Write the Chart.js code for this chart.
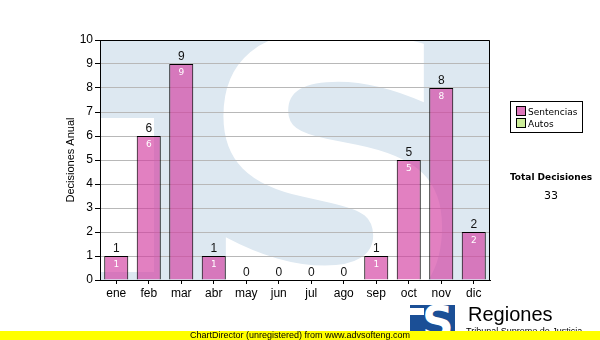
<!DOCTYPE html>
<html>
<head>
<meta charset="utf-8">
<script src="https://cdn.jsdelivr.net/npm/chart.js@4"></script>
<style>
  html, body { margin: 0; padding: 0; background: #fff; }
  #wrap { position: relative; width: 600px; height: 340px; overflow: hidden; font-family: "Liberation Sans", Arial, sans-serif; }
  #chart { position: absolute; left: 0; top: 0; }
  .legend { position: absolute; left: 510px; top: 101px; width: 73px; height: 32px; border: 1px solid #000; box-sizing: border-box;
            font: 9px "DejaVu Sans", sans-serif; padding: 4px 0 0 5px; line-height: 12px; }
  .legend span.sw { display: inline-block; width: 8px; height: 8px; border: 1px solid #000; vertical-align: -1px; margin-right: 2px; }
  .total { position: absolute; left: 500px; width: 102px; text-align: center; font: 9px "DejaVu Sans", sans-serif; }
  .yellow { position: absolute; left: 0; top: 331px; width: 600px; height: 9px; background: #ffff00; z-index: 3;
            font: 9px "Liberation Sans", Arial, sans-serif; line-height: 9px; text-align: center; color: #000; }
  .logo { position: absolute; left: 410px; top: 305px; width: 45px; height: 30px; background: #1b4f96; overflow: hidden; }
  .logo span { position: absolute; left: 12px; top: -8px; color: #fff; font: bold 44px "DejaVu Sans", sans-serif; }
  .logo i { position: absolute; left: 0; top: 3px; width: 14px; height: 7px; background: #fff; }
  .reg { position: absolute; left: 468px; top: 303px; font: 20px "Liberation Sans", Arial, sans-serif; color: #000; }
  .sub { position: absolute; left: 466px; top: 326px; font: 9px "Liberation Sans", Arial, sans-serif; color: #000; }
</style>
</head>
<body>
<div id="wrap">
  <canvas id="chart" width="600" height="340"></canvas>
  <div class="legend">
    <div><span class="sw" style="background:#dd77bb"></span>Sentencias</div>
    <div><span class="sw" style="background:#ccee99"></span>Autos</div>
  </div>
  <div class="total" style="top:172px;font-weight:bold">Total Decisiones</div>
  <div class="total" style="top:189px;font-size:11px">33</div>
  <div class="logo"><i></i><span>S</span></div>
  <div class="reg">Regiones</div>
  <div class="sub">Tribunal Supremo de Justicia</div>
  <div class="yellow">ChartDirector (unregistered) from www.advsofteng.com</div>
</div>
<script>
// data
const months = ['ene', 'feb', 'mar', 'abr', 'may', 'jun', 'jul', 'ago', 'sep', 'oct', 'nov', 'dic'];
const sentencias = [1, 6, 9, 1, 0, 0, 0, 0, 1, 5, 8, 2];
const yTicks = [0, 1, 2, 3, 4, 5, 6, 7, 8, 9, 10];

const PLOT_BG = '#dde8f1';
const BAR = 'rgba(210, 60, 160, 0.65)';

// background + watermark S inside plot area
const backdrop = {
  id: 'backdrop',
  beforeDraw(chart) {
    const { ctx, chartArea: a } = chart;
    ctx.save();
    ctx.beginPath();
    ctx.rect(a.left, a.top, a.right - a.left, a.bottom - a.top);
    ctx.clip();
    ctx.fillStyle = PLOT_BG;
    ctx.fillRect(a.left, a.top, a.right - a.left, a.bottom - a.top);
    ctx.fillStyle = '#fff';
    ctx.fillRect(a.left, 118, 54, 154);
    ctx.font = 'bold 380px "DejaVu Sans"';
    ctx.textAlign = 'center';
    ctx.textBaseline = 'alphabetic';
    ctx.fillText('S', 333, 312);
    ctx.restore();
  },
};

// frame on top and right, value labels
const labels = {
  id: 'labels',
  afterDatasetsDraw(chart) {
    const { ctx, chartArea: a } = chart;
    const meta = chart.getDatasetMeta(0);
    ctx.save();
    ctx.strokeStyle = '#000';
    ctx.lineWidth = 1;
    ctx.beginPath();
    ctx.moveTo(a.left, a.top + 0.5);
    ctx.lineTo(a.right - 0.5, a.top + 0.5);
    ctx.lineTo(a.right - 0.5, a.bottom);
    ctx.stroke();
    ctx.textAlign = 'center';
    meta.data.forEach((bar, i) => {
      const v = sentencias[i];
      ctx.fillStyle = '#111';
      ctx.font = '12px "Liberation Sans"';
      ctx.textBaseline = 'bottom';
      ctx.fillText(String(v), bar.x, bar.y - 1);
      if (v > 0) {
        ctx.fillStyle = '#fff';
        ctx.font = '9px "DejaVu Sans"';
        ctx.textBaseline = 'top';
        ctx.fillText(String(v), bar.x, bar.y + 4);
      }
    });
    ctx.restore();
  },
};

new Chart(document.getElementById('chart'), {
  type: 'bar',
  data: {
    labels: months,
    datasets: [{
      label: 'Sentencias',
      data: sentencias,
      backgroundColor: BAR,
      borderColor: '#000',
      borderWidth: 1,
      borderSkipped: 'bottom',
      categoryPercentage: 1,
      barPercentage: 0.74,
    }],
  },
  options: {
    responsive: false,
    animation: false,
    events: [],
    layout: { padding: { left: 60, right: 110, top: 40, bottom: 0 } },
    plugins: { legend: { display: false }, tooltip: { enabled: false } },
    scales: {
      x: {
        grid: { display: true, drawOnChartArea: false, offset: false, tickLength: 4, tickColor: '#000' },
        border: { color: '#000' },
        ticks: { color: '#000', font: { family: 'Liberation Sans', size: 12 }, padding: 2 },
        afterFit(s) { s.height = 60; },
      },
      y: {
        min: 0,
        max: 10,
        afterBuildTicks(s) { s.ticks = yTicks.map(v => ({ value: v })); },
        grid: { color: '#b8b8b8', tickLength: 5, tickColor: '#000' },
        border: { color: '#000' },
        ticks: { color: '#000', font: { family: 'Liberation Sans', size: 12 }, padding: 2 },
        title: { display: true, text: 'Decisiones Anual', color: '#000', font: { family: 'Liberation Sans', size: 11 }, padding: { top: 4, bottom: 0 } },
        afterFit(s) { s.width = 40; },
      },
    },
  },
  plugins: [backdrop, labels],
});
</script>
</body>
</html>
